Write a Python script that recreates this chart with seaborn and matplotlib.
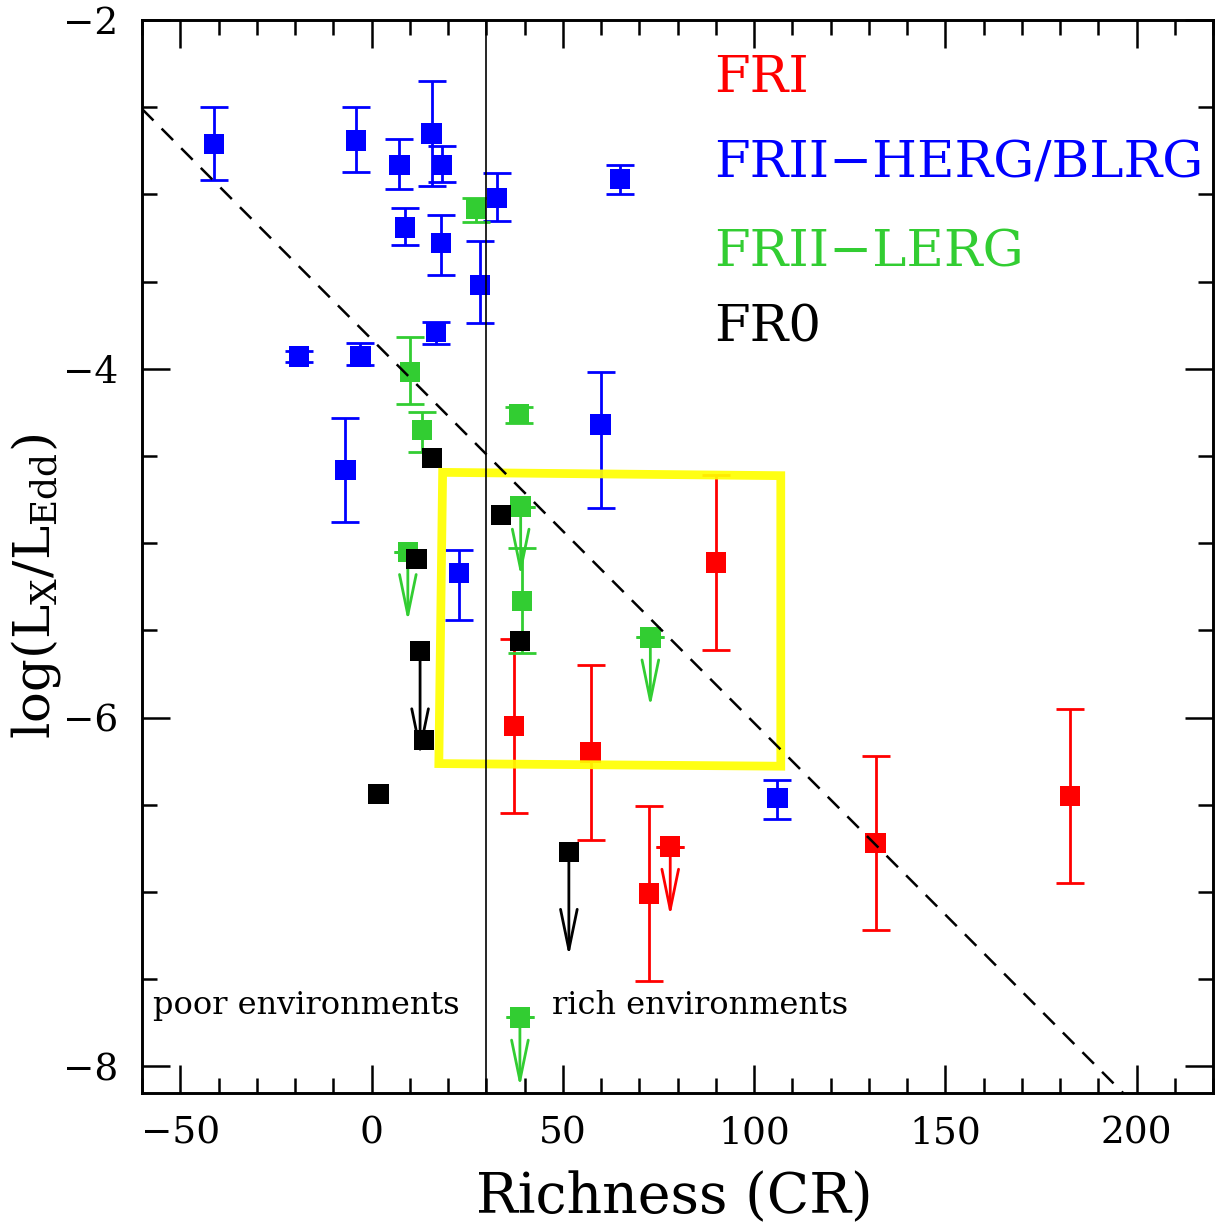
import numpy as np
import pandas as pd
import matplotlib
matplotlib.use('Agg')
import matplotlib.pyplot as plt
from matplotlib.ticker import MultipleLocator
import seaborn as sns

# ---------------- data ----------------
categories = ['FRI', 'FRII\u2212HERG/BLRG', 'FRII\u2212LERG', 'FR0']

fri_x = [37.3, 57.3, 90.0, 72.5, 131.8, 182.6]
fri_y = [-6.05, -6.20, -5.11, -7.01, -6.72, -6.45]
fri_err_lo = [0.50, 0.50, 0.50, 0.50, 0.50, 0.50]
fri_err_hi = [0.50, 0.50, 0.50, 0.50, 0.50, 0.50]
fri_ul_x = [78.1]
fri_ul_y = [-6.74]

herg_x = [-41.2, -4.0, 7.3, 15.7, 18.4, 8.8, 18.2, 32.8, 65.0, 28.3, 16.8,
          -18.9, -2.9, 59.9, -6.8, 22.9, 106.1]
herg_y = [-2.71, -2.69, -2.83, -2.65, -2.83, -3.19, -3.28, -3.02, -2.91, -3.52,
          -3.79, -3.93, -3.93, -4.32, -4.58, -5.17, -6.46]
herg_err_hi = [0.21, 0.19, 0.15, 0.30, 0.11, 0.11, 0.16, 0.14, 0.08, 0.25,
               0.06, 0.03, 0.08, 0.30, 0.30, 0.13, 0.10]
herg_err_lo = [0.21, 0.18, 0.14, 0.30, 0.10, 0.10, 0.18, 0.13, 0.09, 0.22,
               0.07, 0.03, 0.05, 0.48, 0.30, 0.27, 0.12]
herg_ul_x = []
herg_ul_y = []

lerg_x = [27.3, 10.0, 13.2, 38.6, 39.3]
lerg_y = [-3.08, -4.02, -4.35, -4.26, -5.33]
lerg_err_hi = [0.06, 0.20, 0.10, 0.04, 0.30]
lerg_err_lo = [0.08, 0.18, 0.13, 0.05, 0.30]
lerg_ul_x = [39.0, 9.5, 72.9, 38.8]
lerg_ul_y = [-4.79, -5.05, -5.54, -7.72]

fr0_x = [15.8, 33.8, 11.8, 13.8, 1.8, 38.8]
fr0_y = [-4.51, -4.84, -5.09, -6.13, -6.44, -5.56]
fr0_ul_x = [12.7, 51.6]
fr0_ul_y = [-5.62, -6.77]

# dividing line between poor and rich environments, and the dashed relation
richness_split = 30
fit_intercept = -3.83
fit_slope = -0.022

# highlighted region (hand-drawn yellow box corners)
box_x = [18.6, 107.0, 107.0, 17.6]
box_y = [-4.594, -4.613, -6.279, -6.264]

x_ticks = [-50, 0, 50, 100, 150, 200]
y_ticks = [-8, -6, -4, -2]

# ---------------- styling ----------------
colors = {categories[0]: '#ff0000', categories[1]: '#0000ff',
          categories[2]: '#32cd32', categories[3]: '#000000'}
arrow_len = {categories[0]: 0.40, categories[1]: 0.40,
             categories[2]: 0.40, categories[3]: 0.60}
ul_cap = {categories[0]: True, categories[1]: True,
          categories[2]: True, categories[3]: False}

sns.set_style('ticks')
plt.rcParams['font.family'] = ['DejaVu Serif']
plt.rcParams['mathtext.fontset'] = 'dejavuserif'
plt.rcParams['text.color'] = 'black'
plt.rcParams['axes.labelcolor'] = 'black'
plt.rcParams['xtick.color'] = 'black'
plt.rcParams['ytick.color'] = 'black'
plt.rcParams['xtick.labelcolor'] = 'black'
plt.rcParams['ytick.labelcolor'] = 'black'

groups = {
    categories[0]: (fri_x, fri_y, fri_err_lo, fri_err_hi, fri_ul_x, fri_ul_y),
    categories[1]: (herg_x, herg_y, herg_err_lo, herg_err_hi, herg_ul_x, herg_ul_y),
    categories[2]: (lerg_x, lerg_y, lerg_err_lo, lerg_err_hi, lerg_ul_x, lerg_ul_y),
    categories[3]: (fr0_x, fr0_y, None, None, fr0_ul_x, fr0_ul_y),
}

rows = []
for cat, (gx, gy, lo, hi, ux, uy) in groups.items():
    for a, b in zip(gx, gy):
        rows.append({'richness': a, 'lx': b, 'cls': cat})
    for a, b in zip(ux, uy):
        rows.append({'richness': a, 'lx': b, 'cls': cat})
df = pd.DataFrame(rows)

W, H = 1223, 1224
fig = plt.figure(figsize=(W / 100, H / 100), dpi=100)
ax = fig.add_axes([142 / W, 1 - 1093 / H, (1213 - 142) / W, (1093 - 20) / H])

# error bars
for cat, (gx, gy, lo, hi, ux, uy) in groups.items():
    c = colors[cat]
    if lo is not None:
        ax.errorbar(gx, gy, yerr=[lo, hi], fmt='none', ecolor=c,
                    elinewidth=2.0, capsize=10.4, capthick=2.0, zorder=2)
    if len(ux) and ul_cap[cat]:
        ax.errorbar(ux, uy, yerr=[[0] * len(ux), [0] * len(ux)], fmt='none',
                    ecolor=c, elinewidth=2.0, capsize=10.4, capthick=2.0, zorder=2)
    for a, b in zip(ux, uy):
        ax.annotate('', xy=(a, b - arrow_len[cat]), xytext=(a, b),
                    arrowprops=dict(arrowstyle='->,head_length=2.9,head_width=0.6',
                                    color=c, lw=2.0, shrinkA=0, shrinkB=0,
                                    mutation_scale=10), zorder=2)

# squares
sns.scatterplot(data=df, x='richness', y='lx', hue='cls', hue_order=categories,
                palette=colors, marker='s', s=215, linewidth=0, legend=False,
                ax=ax, zorder=3)

# reference lines
ax.axvline(richness_split, color='black', lw=1.2, zorder=5)
ax.axline((0, fit_intercept), slope=fit_slope, color='black', lw=1.8,
          linestyle=(0, (6.5, 4.6)), zorder=5)

# yellow box
ax.fill(box_x, box_y, facecolor='none', edgecolor='#ffff00', lw=6.3,
        joinstyle='miter', alpha=0.92, zorder=4.5)

# axes
ax.set_xlim(-60, 220)
ax.set_ylim(-8.153, -2)
ax.set_xticks(x_ticks)
ax.set_yticks(y_ticks)
ax.xaxis.set_minor_locator(MultipleLocator(10))
ax.yaxis.set_minor_locator(MultipleLocator(0.5))
ax.tick_params(which='both', direction='in', top=True, right=True,
               width=1.8, color='black', labelcolor='black')
ax.tick_params(which='major', length=20)
ax.tick_params(which='minor', length=10.5)
ax.tick_params(axis='x', which='major', labelsize=27, pad=16)
ax.tick_params(axis='y', which='major', labelsize=27, pad=17)
for sp in ax.spines.values():
    sp.set_linewidth(2.1)
    sp.set_color('black')
ax.set_xlabel('')
ax.set_ylabel('')

ax.text(0.497, -0.1118, 'Richness (CR)', transform=ax.transAxes,
        ha='center', va='baseline', fontsize=40, color='black')
ax.text(-0.099, 0.472, r'log(L$_{\mathrm{X}}$/L$_{\mathrm{Edd}}$)',
        transform=ax.transAxes, rotation=90, ha='center', va='center',
        fontsize=37, color='black')

# category labels
legend_y = [-2.413, -2.905, -3.415, -3.845]
for cat, yy in zip(categories, legend_y):
    ax.text(89.7, yy, cat, color=colors[cat], fontsize=37,
            ha='left', va='baseline')

ax.text(-57.1, -7.702, 'poor environments', fontsize=23, ha='left',
        va='baseline', color='black')
ax.text(47.2, -7.702, 'rich environments', fontsize=23, ha='left',
        va='baseline', color='black')

fig.savefig('out.png', dpi=100, facecolor='white')
